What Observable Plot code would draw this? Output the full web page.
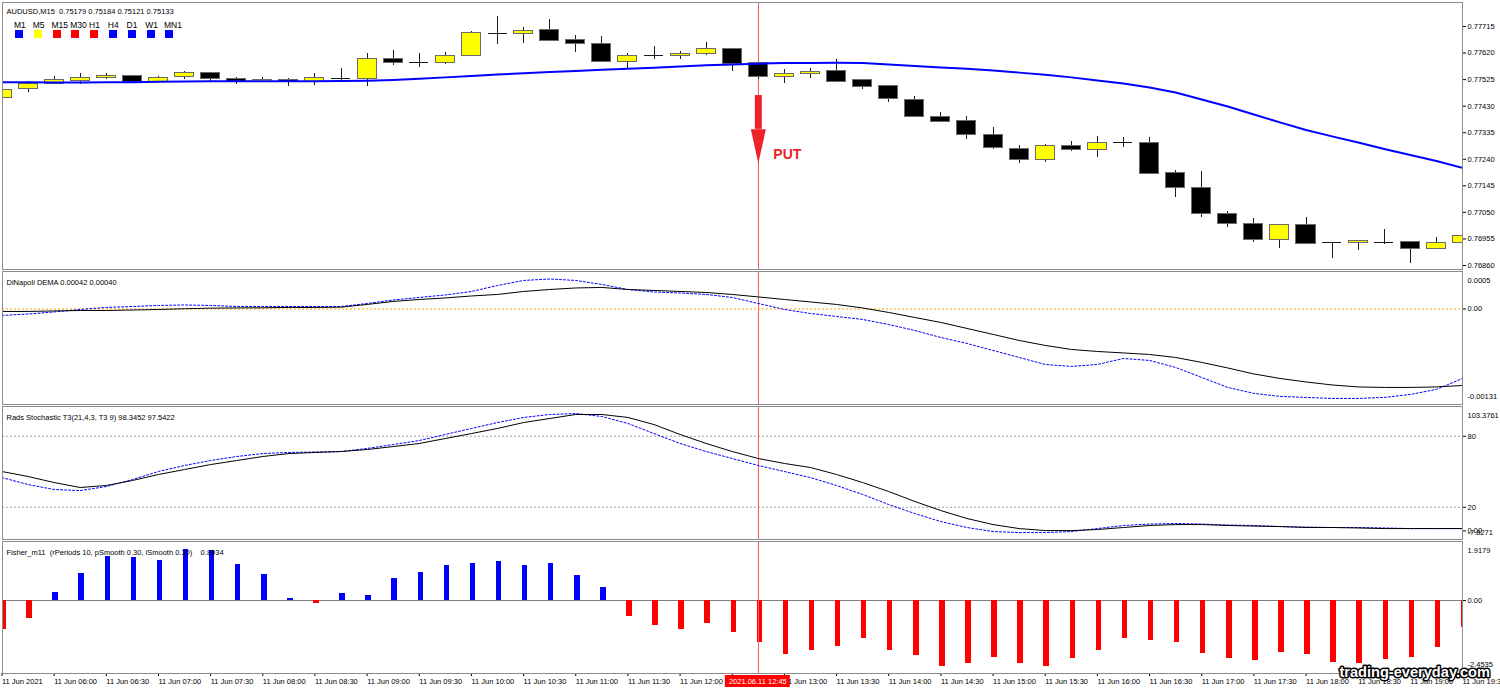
<!DOCTYPE html>
<html><head><meta charset="utf-8">
<script src="https://cdn.jsdelivr.net/npm/d3@7"></script>
<script src="https://cdn.jsdelivr.net/npm/@observablehq/plot@0.6"></script>
<style>
body{margin:0;background:#fff;}
#wrap{position:relative;width:1500px;height:690px;overflow:hidden;font-family:"Liberation Sans",Arial,sans-serif;background:#fff;}
#wrap svg{position:absolute;left:0;}
.tf{position:absolute;font-size:8.5px;line-height:1;color:#000;white-space:nowrap;}
.sq{position:absolute;width:8px;height:8px;}
</style></head><body><div id="wrap"></div>
<script>
// ---------- DATA ----------
const times = ["05:30","05:45","06:00","06:15","06:30","06:45","07:00","07:15","07:30","07:45","08:00","08:15","08:30","08:45","09:00","09:15","09:30","09:45","10:00","10:15","10:30","10:45","11:00","11:15","11:30","11:45","12:00","12:15","12:30","12:45","13:00","13:15","13:30","13:45","14:00","14:15","14:30","14:45","15:00","15:15","15:30","15:45","16:00","16:15","16:30","16:45","17:00","17:15","17:30","17:45","18:00","18:15","18:30","18:45","19:00","19:15","19:30"];
const opens  = [0.77460,0.77490,0.77510,0.77521,0.77530,0.77537,0.77515,0.77533,0.77547,0.77528,0.77516,0.77525,0.77516,0.77530,0.77527,0.77597,0.77586,0.77585,0.77609,0.77689,0.77687,0.77703,0.77665,0.77653,0.77587,0.77611,0.77610,0.77615,0.77633,0.77584,0.77536,0.77544,0.77555,0.77524,0.77503,0.77453,0.77391,0.77378,0.77328,0.77278,0.77239,0.77289,0.77274,0.77299,0.77299,0.77192,0.77138,0.77045,0.77007,0.76952,0.77006,0.76941,0.76939,0.76943,0.76943,0.76920,0.76942];
const highs  = [0.77504,0.77518,0.77536,0.77548,0.77546,0.77540,0.77535,0.77555,0.77549,0.77534,0.77532,0.77530,0.77548,0.77564,0.77617,0.77629,0.77620,0.77623,0.77698,0.77752,0.77710,0.77739,0.77684,0.77679,0.77617,0.77645,0.77627,0.77657,0.77635,0.77585,0.77560,0.77564,0.77596,0.77525,0.77504,0.77465,0.77406,0.77394,0.77353,0.77289,0.77293,0.77304,0.77322,0.77317,0.77319,0.77200,0.77196,0.77053,0.77027,0.77007,0.77033,0.76942,0.76950,0.76988,0.76944,0.76961,0.76973];
const lows   = [0.77457,0.77478,0.77508,0.77508,0.77527,0.77515,0.77514,0.77527,0.77514,0.77506,0.77515,0.77500,0.77504,0.77522,0.77500,0.77576,0.77569,0.77578,0.77608,0.77650,0.77653,0.77663,0.77623,0.77585,0.77566,0.77596,0.77596,0.77611,0.77555,0.77524,0.77512,0.77530,0.77515,0.77489,0.77444,0.77391,0.77371,0.77312,0.77276,0.77224,0.77227,0.77268,0.77248,0.77282,0.77186,0.77104,0.77033,0.76995,0.76941,0.76920,0.76937,0.76884,0.76914,0.76934,0.76868,0.76919,0.76926];
const closes = [0.77489,0.77510,0.77522,0.77532,0.77539,0.77516,0.77532,0.77550,0.77527,0.77516,0.77524,0.77516,0.77532,0.77530,0.77597,0.77585,0.77586,0.77610,0.77691,0.77689,0.77700,0.77664,0.77652,0.77587,0.77611,0.77611,0.77617,0.77633,0.77582,0.77534,0.77546,0.77554,0.77518,0.77500,0.77454,0.77393,0.77375,0.77326,0.77280,0.77239,0.77289,0.77274,0.77299,0.77299,0.77187,0.77138,0.77043,0.77009,0.76952,0.77006,0.76938,0.76941,0.76946,0.76943,0.76920,0.76942,0.76964];
const maValues = [0.77516,0.77516,0.77515,0.77515,0.77516,0.77516,0.77517,0.77518,0.77519,0.77519,0.77519,0.77519,0.77519,0.77520,0.77521,0.77524,0.77528,0.77533,0.77538,0.77543,0.77548,0.77552,0.77556,0.77560,0.77564,0.77567,0.77572,0.77576,0.77579,0.77582,0.77584,0.77584,0.77585,0.77584,0.77579,0.77574,0.77568,0.77564,0.77558,0.77550,0.77542,0.77533,0.77522,0.77511,0.77497,0.77479,0.77454,0.77429,0.77400,0.77372,0.77345,0.77322,0.77300,0.77277,0.77255,0.77234,0.77209];
// DiNapoli DEMA, in units of 0.00001
const demaMainE5 = [-3.4,-3.4,-2.7,-2.1,-2.1,-1.4,-0.7,0.3,1.1,1.4,1.6,2.1,2.1,2.5,6.2,10.3,13.0,15.1,17.8,19.9,24.0,26.7,28.8,29.5,26.7,25.4,24.0,22.6,19.9,16.5,13.0,9.6,6.2,1.4,-4.8,-11.7,-18.5,-26.7,-34.9,-43.2,-50.0,-55.5,-58.3,-60.3,-62.4,-66.5,-73.3,-80.9,-89.1,-95.3,-100.1,-104.2,-106.9,-107.6,-107.6,-106.9,-104.9];
const demaSignalE5 = [-8.9,-6.9,-4.1,-0.7,2.1,3.4,4.8,5.5,4.8,3.4,3.4,3.4,3.4,3.4,7.5,12.3,15.8,19.2,24.0,32.2,39.1,41.1,39.1,33.6,26.7,23.3,21.9,19.9,15.8,7.5,-0.7,-6.2,-10.3,-14.4,-21.3,-29.5,-39.1,-47.3,-56.9,-66.5,-76.1,-78.8,-76.1,-67.9,-70.6,-80.2,-93.9,-107.6,-115.8,-119.9,-121.3,-122.7,-122.7,-121.3,-117.2,-110.3,-95.3];
const stochMain = [50.2,46.0,40.9,36.7,38.4,42.6,47.7,51.9,56.1,59.5,62.9,65.4,66.3,67.1,68.8,71.3,73.9,78.1,82.3,86.6,91.6,95.0,98.4,98.4,95.9,89.9,81.5,73.9,67.1,61.2,57.0,53.6,47.7,40.9,33.3,24.9,17.2,10.5,5.4,2.0,0.3,0.3,1.2,2.9,4.6,5.4,5.4,4.6,4.1,3.7,2.9,2.9,2.5,2.0,2.0,2.0,2.0];
const stochSignal = [45.1,39.2,35.0,34.1,37.5,43.4,50.2,55.3,59.5,62.9,65.4,66.3,66.7,67.1,69.7,73.0,76.4,81.5,86.6,91.6,95.9,98.4,99.2,96.7,90.8,82.3,73.9,67.1,61.2,55.3,50.2,45.1,38.4,30.8,22.3,14.7,7.9,2.9,-0.5,-1.4,-1.4,-0.5,2.0,4.6,5.8,6.3,5.8,5.0,4.6,3.7,3.3,2.9,2.9,2.5,2.0,2.0,2.0];
const fisher = [-0.97,-0.58,0.27,0.90,1.46,1.43,1.32,1.68,1.67,1.19,0.88,0.06,-0.09,0.25,0.17,0.74,0.93,1.15,1.22,1.29,1.16,1.22,0.83,0.43,-0.53,-0.83,-0.96,-0.76,-1.06,-1.39,-1.79,-1.65,-1.52,-1.26,-1.65,-1.82,-2.18,-2.08,-1.88,-2.08,-2.18,-1.92,-1.65,-1.26,-1.32,-1.39,-1.75,-1.92,-1.98,-1.72,-1.79,-2.05,-2.08,-1.95,-1.88,-1.56,-0.88];

const priceTicks = [0.77715,0.77620,0.77525,0.77430,0.77335,0.77240,0.77145,0.77050,0.76955,0.76860];
const demaEdges = ["0.0005","-0.00131"];
const stochTicks = [80,20,0];
const stochEdges = ["103.3761","-7.8271"];
const fisherEdges = ["1.9179","-2.4535"];
const tfLabels = ["M1","M5","M15","M30","H1","H4","D1","W1","MN1"];
const tfColors = ["#0000ff","#ffff00","#ff0000","#ff0000","#ff0000","#0000ff","#0000ff","#0000ff","#0000ff"];
const headerText = "AUDUSD,M15\u00a0\u00a00.75179 0.75184 0.75121 0.75133";
const demaTitle = "DiNapoli DEMA 0.00042 0.00040";
const stochTitle = "Rads Stochastic T3(21,4,3, T3 9) 98.3452 97.5422";
const fisherTitle = "Fisher_m11\u00a0\u00a0(rPeriods 10, pSmooth 0.30, iSmooth 0.30)\u00a0\u00a0\u00a0\u00a00.8934";
const dateLabel = "11 Jun 2021";
const cursorLabel = "2021.06.11 12:45";
const watermark = "trading-everyday.com";
const signal = {index: 29, label: "PUT", top: 0.77468, headBase: 0.77347, labelY: 0.77257};

// ---------- BUILD ----------
const FONT = '"Liberation Sans", Arial, sans-serif';
const candles = times.map((t,i)=>({i,t,o:opens[i],h:highs[i],l:lows[i],c:closes[i],ma:maValues[i],
  d1:demaMainE5[i],d2:demaSignalE5[i],s1:stochMain[i],s2:stochSignal[i],f:fisher[i]}));
const bodies = candles.filter(d=>d.o!==d.c);
const dojis = candles.filter(d=>d.o===d.c);
const bw = 0.365;
const xOpts = {type:"linear", domain:[0,56], range:[1.5,1462], label:null};
const common = {width:1500, marginLeft:2, marginRight:38,
  style:{background:"transparent", overflow:"visible", fontFamily:FONT, fontSize:"7.5px", color:"#000"}};
const frameColor = "#8c8c8c";
const cursorColor = "#ff5a5a";
const arrowHead = {draw(ctx){ ctx.moveTo(-7.5,0); ctx.lineTo(7.5,0); ctx.lineTo(0,34); ctx.closePath(); }};
const title = (t, dy) => Plot.text([t], {frameAnchor:"top-left", dx:4, dy, textAnchor:"start", fontSize:7.5, fill:"#000"});
const edge = (t, anchor, dy) => Plot.text([t], {frameAnchor:anchor, dx:5, dy, textAnchor:"start", fontSize:7.5, fill:"#000"});

const wrap = document.getElementById("wrap");
function place(svg, top){ svg.style.top = top + "px"; wrap.appendChild(svg); return svg; }

// Main price pane
place(Plot.plot({...common, height:270, marginTop:2, marginBottom:1,
  x:{...xOpts, axis:null},
  y:{domain:[0.76860,0.77715], range:[265,26], label:null},
  marks:[
    Plot.ruleX([signal.index], {stroke:cursorColor, shapeRendering:"crispEdges"}),
    Plot.ruleX(candles, {x:"i", y1:"l", y2:"h", stroke:"#1a1a1a", clip:true, shapeRendering:"crispEdges"}),
    Plot.rect(bodies, {x1:d=>d.i-bw, x2:d=>d.i+bw, y1:"o", y2:"c", fill:d=>d.c>d.o?"#ffff00":"#000000",
      stroke:"#6a6a6a", strokeWidth:1, clip:true, shapeRendering:"crispEdges"}),
    Plot.ruleY(dojis, {y:"o", x1:d=>d.i-bw, x2:d=>d.i+bw, stroke:"#1a1a1a", clip:true, shapeRendering:"crispEdges"}),
    Plot.line(candles, {x:"i", y:"ma", stroke:"#0000ff", strokeWidth:2, clip:true}),
    Plot.ruleX([signal], {x:"index", y1:"top", y2:"headBase", stroke:"#ee2229", strokeWidth:7}),
    Plot.dot([signal], {x:"index", y:"headBase", symbol:arrowHead, fill:"#ee2229", stroke:"none"}),
    Plot.text([signal], {x:"index", y:"labelY", text:"label", dx:15, textAnchor:"start", fill:"#ee2229",
      fontWeight:"bold", fontSize:14, fontFamily:FONT}),
    Plot.axisY(priceTicks, {anchor:"right", tickSize:3, tickPadding:2, fontSize:7.5, tickFormat:d=>d.toFixed(5)}),
    title(headerText, 6.5),
    Plot.frame({stroke:frameColor, shapeRendering:"crispEdges"})
  ]}), 0);

// DEMA pane
place(Plot.plot({...common, height:135, marginTop:1, marginBottom:1,
  x:{...xOpts, axis:null},
  y:{domain:[-131,50], range:[134,2], label:null},
  marks:[
    Plot.ruleX([signal.index], {stroke:cursorColor, shapeRendering:"crispEdges"}),
    Plot.ruleY([0], {stroke:"#ffa500", strokeDasharray:"2,2"}),
    Plot.line(candles, {x:"i", y:"d2", stroke:"#0000ff", strokeDasharray:"2,2", strokeWidth:1, clip:true}),
    Plot.line(candles, {x:"i", y:"d1", stroke:"#000", strokeWidth:1, clip:true}),
    Plot.axisY([0], {anchor:"right", tickSize:3, tickPadding:2, fontSize:7.5, tickFormat:()=>"0.00"}),
    edge(demaEdges[0], "top-right", 5.7),
    edge(demaEdges[1], "bottom-right", -5.7),
    title(demaTitle, 8),
    Plot.frame({stroke:frameColor, shapeRendering:"crispEdges"})
  ]}), 270);

// Stochastic pane
place(Plot.plot({...common, height:135, marginTop:1, marginBottom:1,
  x:{...xOpts, axis:null},
  y:{domain:[-7.8271,103.3761], range:[134.7,3.1], label:null},
  marks:[
    Plot.ruleY([80,20], {stroke:"#a0a0a0", strokeDasharray:"2,2"}),
    Plot.ruleX([signal.index], {stroke:cursorColor, shapeRendering:"crispEdges"}),
    Plot.line(candles, {x:"i", y:"s2", stroke:"#0000ff", strokeDasharray:"2,2", strokeWidth:1, clip:true}),
    Plot.line(candles, {x:"i", y:"s1", stroke:"#000", strokeWidth:1, clip:true}),
    Plot.axisY(stochTicks, {anchor:"right", tickSize:3, tickPadding:2, fontSize:7.5, tickFormat:d=>d===0?"0.00":String(d)}),
    edge(stochEdges[0], "top-right", 6.5),
    edge(stochEdges[1], "bottom-right", -5),
    title(stochTitle, 8),
    Plot.frame({stroke:frameColor, shapeRendering:"crispEdges"})
  ]}), 405);

// Fisher pane + time axis (the 12:30 label sits under the cursor time box, as in the original)
const tickIdx = candles.map(d=>d.i).filter(i=>i%2===0);
const paneD = place(Plot.plot({...common, height:150, marginTop:1, marginBottom:17,
  x:{...xOpts},
  y:{domain:[-2.4535,1.9179], range:[134.2,2.2], label:null},
  marks:[
    Plot.ruleY([0], {stroke:"#808080", shapeRendering:"crispEdges"}),
    Plot.ruleX(candles, {x:"i", y1:0, y2:"f", dx:1, stroke:d=>d.f>=0?"#0000ff":"#ff0000", strokeWidth:5.5, clip:true, shapeRendering:"crispEdges"}),
    Plot.ruleX([signal.index], {stroke:cursorColor, shapeRendering:"crispEdges"}),
    Plot.axisX(tickIdx, {anchor:"bottom", tickSize:3, tickPadding:2, fontSize:7.5, textAnchor:"start", dx:0,
      tickFormat:i=>i===0?dateLabel:(i===signal.index-1?"":"11 Jun "+times[i])}),
    Plot.axisY([0], {anchor:"right", tickSize:3, tickPadding:2, fontSize:7.5, tickFormat:()=>"0.00"}),
    edge(fisherEdges[0], "top-right", 5.7),
    edge(fisherEdges[1], "bottom-right", -7),
    title(fisherTitle, 8),
    Plot.frame({stroke:frameColor, shapeRendering:"crispEdges"})
  ]}), 540);

// cursor time box and watermark, positioned with the plot's own x scale
const sx = paneD.scale("x");
const cx = sx.apply(signal.index);
const sel = d3.select(paneD);
sel.append("rect").attr("x", cx-33).attr("y", 135).attr("width", 65).attr("height", 12).attr("fill", "#ff0000");
sel.append("text").attr("x", cx).attr("y", 144).attr("text-anchor","middle").attr("fill","#fff")
  .attr("font-size","7.5px").attr("font-family",FONT).text(cursorLabel);
sel.append("text").attr("x", 1490).attr("y", 137).attr("text-anchor","end").attr("fill","#fff")
  .attr("stroke","#000").attr("stroke-width",3).attr("paint-order","stroke").attr("stroke-linejoin","round")
  .attr("font-size","14.6px").attr("font-weight","bold").attr("font-family",FONT).text(watermark);

// timeframe legend
tfLabels.forEach((t,k)=>{
  const s = document.createElement("span"); s.className="tf"; s.textContent=t;
  s.style.left = (14 + 18.75*k) + "px"; s.style.top = "20.5px"; wrap.appendChild(s);
  const q = document.createElement("div"); q.className="sq"; q.style.background = tfColors[k];
  q.style.left = (15 + 18.8*k) + "px"; q.style.top = "30px"; wrap.appendChild(q);
});
</script></body></html>
